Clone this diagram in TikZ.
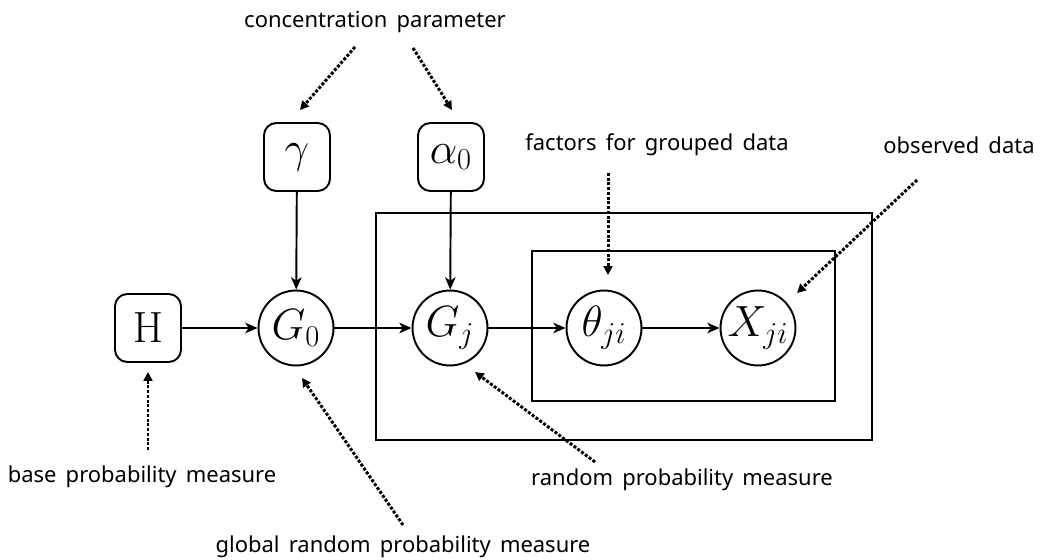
\documentclass[tikz,border=0pt]{standalone}
\usepackage[no-math]{fontspec}
\usepackage{amsmath}
\setmainfont{Noto Sans}
\usetikzlibrary{arrows.meta}
\newcommand{\lblfont}{\fontsize{12.5}{14}\selectfont\spaceskip=0.42em\relax}

\begin{document}
\begin{tikzpicture}[x=0.02cm, y=-0.02cm,
  var/.style={draw, circle, line width=1.1pt, minimum size=1.5cm, inner sep=0pt, font=\fontsize{26}{30}\selectfont},
  prm/.style={draw, rounded corners=7pt, line width=1.1pt, minimum width=1.32cm, minimum height=1.36cm, inner sep=0pt, font=\fontsize{26}{30}\selectfont},
  lbl/.style={font=\lblfont},
  edge/.style={line width=1.1pt, -{Stealth[length=7pt, width=6pt, inset=2pt]}},
  note/.style={line width=1.7pt, densely dotted, -{Triangle[length=5pt, width=5pt]}}]
\useasboundingbox (0,0) rectangle (1041,560); % page
\draw[line width=1.1pt] (376,213) rectangle (872,440); % outer plate
\draw[line width=1.1pt] (532,251) rectangle (835,401); % inner plate
\node[prm] (H) at (148,328) {$\mathrm{H}$}; % base measure
\node[prm] (gamma) at (297,157) {$\gamma$};
\node[prm] (alpha) at (451,157) {$\alpha_0$};
\node[var] (G0) at (296,328) {$G_0$};
\node[var] (Gj) at (450,328) {$G_j$};
\node[var] (theta) at (604,328) {$\theta_{ji}$};
\node[var] (X) at (758,328) {$X_{ji}$};
\draw[edge] (H) -- (G0);
\draw[edge] (G0) -- (Gj);
\draw[edge] (Gj) -- (theta);
\draw[edge] (theta) -- (X);
\draw[edge] (gamma) -- (G0);
\draw[edge] (alpha) -- (Gj);
% labels
\node[lbl] (conc) at (375,22) {concentration parameter};
\node[lbl] (fact) at (657,145) {factors for grouped data};
\node[lbl] (obs) at (959,145) {observed data};
\node[lbl] (base) at (142,477) {base probability measure};
\node[lbl] (rand) at (682,480) {random probability measure};
\node[lbl] (glob) at (403,547) {global random probability measure};
% dotted pointers
\coordinate (c1) at (355,47); \coordinate (c1t) at (300,110);
\coordinate (c2) at (413,48); \coordinate (c2t) at (452,110);
\coordinate (f1) at (608,173); \coordinate (f1t) at (608,275);
\coordinate (o1) at (917,180); \coordinate (o1t) at (797,293);
\coordinate (b1) at (148,450); \coordinate (b1t) at (148,372);
\coordinate (r1) at (595,462); \coordinate (r1t) at (475,372);
\coordinate (g1) at (403,525); \coordinate (g1t) at (302,378);
\draw[note] (c1) -- (c1t);
\draw[note] (c2) -- (c2t);
\draw[note] (f1) -- (f1t);
\draw[note] (o1) -- (o1t);
\draw[note] (b1) -- (b1t);
\draw[note] (r1) -- (r1t);
\draw[note] (g1) -- (g1t);
\end{tikzpicture}
\end{document}
